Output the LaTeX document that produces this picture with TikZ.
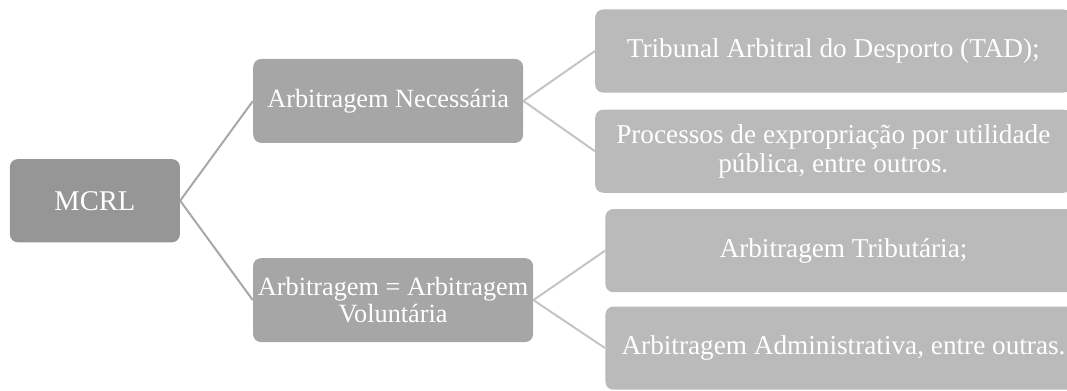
\documentclass[tikz,border=0pt]{standalone}
\usepackage{fontspec}
\setmainfont{Liberation Serif}

\definecolor{rootgray}{HTML}{969696}
\definecolor{midgray}{HTML}{A6A6A6}
\definecolor{leafgray}{HTML}{BABABA}
\definecolor{linkdark}{HTML}{A8A8A8}
\definecolor{linklight}{HTML}{C4C4C4}

\begin{document}
\begin{tikzpicture}[
  box/.style={rounded corners=6pt, text=white, align=center, inner sep=0pt},
  root/.style={box, fill=rootgray, minimum width=4.50cm, minimum height=2.20cm,
               font=\fontsize{21.5}{22}\selectfont},
  mid/.style={box, fill=midgray, minimum height=2.22cm,
              font=\fontsize{19.8}{20.5}\selectfont},
  leaf/.style={box, fill=leafgray, anchor=west, minimum width=12.60cm, minimum height=2.20cm,
               font=\fontsize{20.5}{21.8}\selectfont},
  link/.style={draw=linkdark, line width=1.5pt},
  sublink/.style={draw=linklight, line width=1.5pt},
]
  \useasboundingbox (0,0) rectangle (28.23,10.32);

  % ----- Root -----
  \node[root] (mcrl) at (2.51,5.01) {MCRL};

  % ----- Second level -----
  \node[mid, minimum width=7.14cm] (nec) at (10.27,7.65) {Arbitragem Necessária};
  \node[mid, minimum width=7.41cm] (vol) at (10.40,2.38) {Arbitragem = Arbitragem\\Voluntária};

  \draw[link] (mcrl.east) -- (nec.west);
  \draw[link] (mcrl.east) -- (vol.west);

  % ----- Leaves -----
  \node[leaf] (tad)  at (15.74,8.97) {Tribunal Arbitral do Desporto (TAD);};
  \node[leaf] (expr) at (15.74,6.32) {Processos de expropriação por utilidade\\pública, entre outros.};
  \node[leaf] (trib) at (16.01,3.69) {Arbitragem Tributária;};
  \node[leaf] (adm)  at (16.01,1.11) {Arbitragem Administrativa, entre outras.};

  \draw[sublink] (nec.east) -- (tad.west);
  \draw[sublink] (nec.east) -- (expr.west);
  \draw[sublink] (vol.east) -- (trib.west);
  \draw[sublink] (vol.east) -- (adm.west);
\end{tikzpicture}
\end{document}
